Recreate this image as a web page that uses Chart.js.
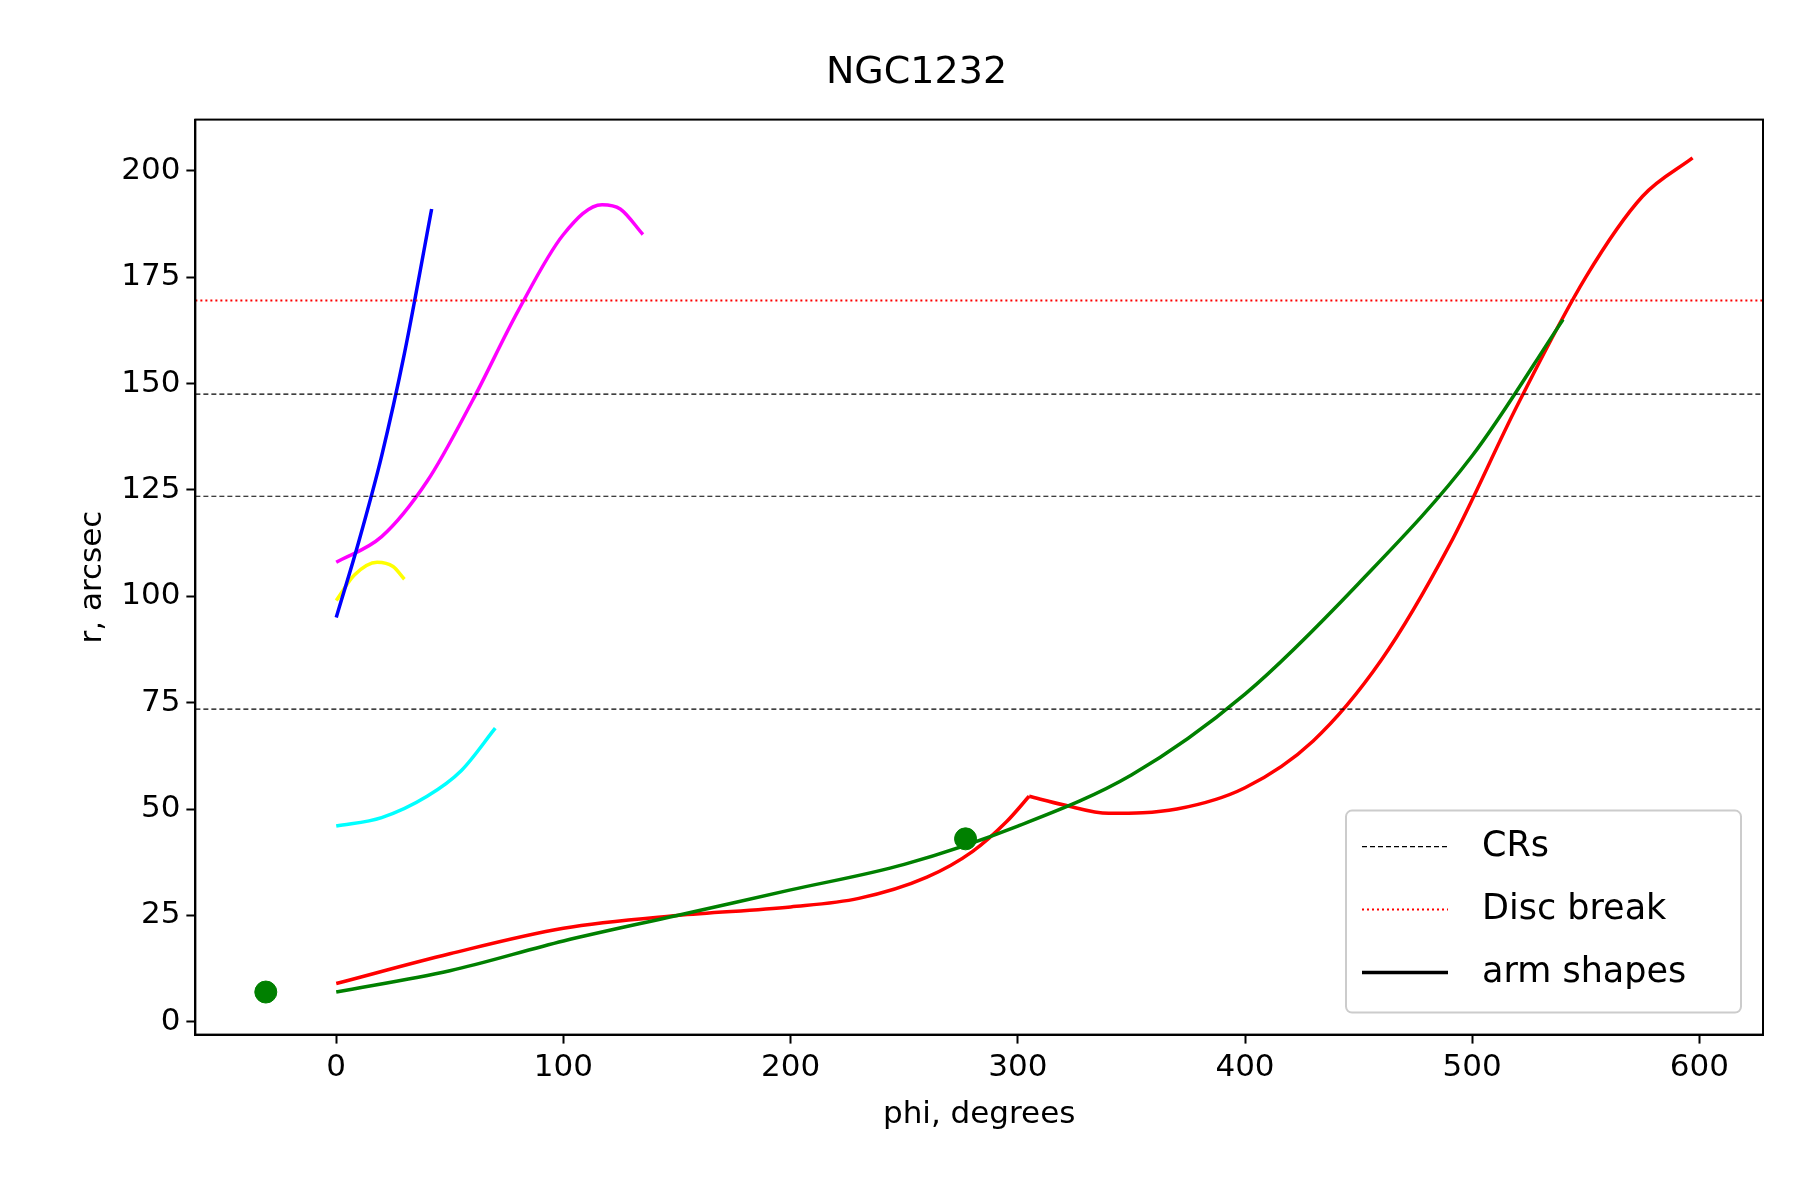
<!DOCTYPE html>
<html><head><meta charset="utf-8">
<script src="https://cdn.jsdelivr.net/npm/chart.js@4/dist/chart.umd.min.js"></script>
<style>html,body{margin:0;background:#fff}#w{width:1800px;height:1200px}</style>
</head><body><div id="w"><canvas id="c"></canvas></div>
<script>
const redArmA=[[0,9],[50,16],[100,22],[150,25],[200,27],[230,29],[260,34],[280,40],[295,47],[305,53]];
const redArmB=[[305,53],[320,51],[340,49],[370,50],[400,55],[430,66],[460,85],[490,112],[520,145],[550,175],[575,194],[597,203]];
const greenArm=[[0,7],[50,12],[100,19],[150,25],[200,31],[250,37],[300,46],[350,58],[400,77],[450,103],[500,133],[540,165]];
const magentaArm=[[0,108],[20,114],[40,127],[60,146],[80,167],[100,185],[117,192],[125,191],[135,185]];
const blueArm=[[0,95],[10,113],[20,133],[30,157],[42,191]];
const yellowArm=[[0,99],[8,105],[18,108],[25,107],[30,104]];
const cyanArm=[[0,46],[20,48],[40,53],[55,59],[70,69]];
const greenPoints=[[-31,7],[277,43]];
const crs=[73.5,123.5,147.5];
const discBreak=169.5;
const xMin=-62,xMax=628,yMin=-3,yMax=212;
const xTicks=[0,100,200,300,400,500,600];
const yTicks=[0,25,50,75,100,125,150,175,200];
const pts=a=>a.map(p=>({x:p[0],y:p[1]}));
const arm=(d,c)=>({data:pts(d),borderColor:c,borderWidth:3.5,pointRadius:0,showLine:true,cubicInterpolationMode:'monotone'});
const hline=(y,c,dash,w)=>({data:[{x:xMin,y},{x:xMax,y}],borderColor:c,borderWidth:w,borderDash:dash,pointRadius:0,showLine:true});
const ds=[];
crs.forEach(v=>ds.push(hline(v,'#000',[5,3],1.2)));
ds.push(hline(discBreak,'red',[2,3],2));
ds.push(arm(blueArm,'blue'),arm(magentaArm,'magenta'),arm(yellowArm,'yellow'),arm(cyanArm,'cyan'),arm(greenArm,'green'),arm(redArmA,'red'),arm(redArmB,'red'));
ds.push({data:pts(greenPoints),backgroundColor:'green',borderColor:'green',pointRadius:11,showLine:false});
const F='DejaVu Sans';
const legendPlugin={id:'lg',afterDraw(ch){const a=ch.chartArea;const g=ch.ctx;
 g.save();g.strokeStyle='#000';g.lineWidth=2;g.strokeRect(a.left,a.top,a.right-a.left,a.bottom-a.top);
 const w=395,h=202,x0=a.right-22-w,y0=a.bottom-22-h;
 g.fillStyle='rgba(255,255,255,0.85)';g.strokeStyle='#ccc';g.lineWidth=2;
 g.beginPath();g.roundRect(x0,y0,w,h,6);g.fill();g.stroke();
 const items=[['CRs','#000',[5,3],1.2],['Disc break','red',[2,3],2],['arm shapes','#000',[],3.5]];
 g.font='35px "'+F+'"';
 items.forEach((it,i)=>{const yy=y0+36+i*63;g.strokeStyle=it[1];g.setLineDash(it[2]);g.lineWidth=it[3];
  g.beginPath();g.moveTo(x0+16,yy);g.lineTo(x0+102,yy);g.stroke();g.setLineDash([]);
  g.fillStyle='#000';g.textBaseline='middle';g.fillText(it[0],x0+136,yy);});
 g.restore();}};
const tickGrid={display:true,drawOnChartArea:false,drawTicks:true,tickLength:9,tickWidth:2,tickColor:'#000'};
new Chart(document.getElementById('c'),{type:'scatter',data:{datasets:ds},plugins:[legendPlugin],
options:{responsive:true,maintainAspectRatio:false,animation:false,
layout:{padding:{left:70,right:37,top:20,bottom:62}},
plugins:{legend:{display:false},tooltip:{enabled:false},
title:{display:true,text:'NGC1232',color:'#000',font:{family:F,size:38,weight:'normal'},padding:{top:30,bottom:24}}},
scales:{
x:{type:'linear',min:xMin,max:xMax,grid:tickGrid,border:{color:'#000',width:2},
 afterBuildTicks:s=>{s.ticks=xTicks.map(v=>({value:v}))},
 ticks:{color:'#000',font:{family:F,size:31},padding:6},
 title:{display:true,text:'phi, degrees',color:'#000',font:{family:F,size:31}}},
y:{type:'linear',min:yMin,max:yMax,grid:tickGrid,border:{color:'#000',width:2},
 afterBuildTicks:s=>{s.ticks=yTicks.map(v=>({value:v}))},
 ticks:{color:'#000',font:{family:F,size:31},padding:6},
 title:{display:true,text:'r, arcsec',color:'#000',font:{family:F,size:31}}}
}}});
</script></body></html>
